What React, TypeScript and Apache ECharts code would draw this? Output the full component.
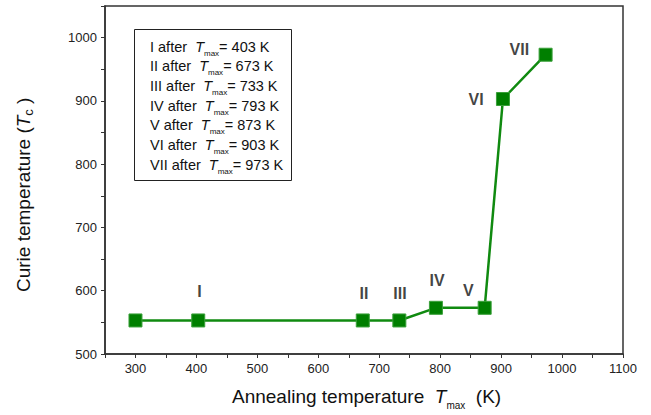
import React, { useEffect, useRef } from "react";
import * as echarts from "echarts";

const annealT = [300, 403, 673, 733, 793, 873, 903, 973];
const curieT = [553, 553, 553, 553, 573, 573, 903, 973];
const stageNames = ["I", "II", "III", "IV", "V", "VI", "VII"];
const stageLabelX = [405, 675, 734, 795, 846, 859, 930];
const stageLabelY = [598, 595, 595, 616, 600, 903, 981];
const legendTmax = [403, 673, 733, 793, 873, 903, 973];

const FONT = "'Liberation Sans', Arial, sans-serif";

export default function App() {
  const ref = useRef<HTMLDivElement>(null);
  useEffect(() => {
    document.body.style.margin = "0";
    if (!ref.current) return;
    const chart = echarts.init(ref.current, null, { renderer: "svg" });
    const lineData = annealT.map((x, i) => [x, curieT[i]]);
    const labelData = stageNames.map((n, i) => ({ name: n, value: [stageLabelX[i], stageLabelY[i]] }));

    const legendTexts: any[] = stageNames.map((n, i) => ({
      type: "text",
      left: 150,
      top: 39 + i * 19.7,
      style: {
        text: `{a|${n} after  }{t|T}{s|max}{a|= ${legendTmax[i]} K}`,
        rich: {
          a: { fontSize: 14.5, fontFamily: FONT, fill: "#111", verticalAlign: "bottom", lineHeight: 16 },
          t: { fontSize: 14.5, fontFamily: FONT, fontStyle: "italic", fill: "#111", verticalAlign: "bottom", lineHeight: 16 },
          s: { fontSize: 8, fontFamily: FONT, fill: "#111", verticalAlign: "bottom", lineHeight: 12, padding: [0, 0, -3, 0] },
        },
      },
    }));

    const axisLabelBase = { color: "#222", fontSize: 13, fontFamily: FONT, margin: 8 };

    chart.setOption({
      animation: false,
      grid: { left: 105, right: 28, top: 6, bottom: 61, show: true, borderColor: "#333", borderWidth: 1.5, containLabel: false },
      xAxis: {
        type: "value",
        min: 250,
        max: 1100,
        interval: 50,
        axisLine: { show: true, lineStyle: { color: "#333", width: 1.5 } },
        axisTick: { show: true, length: 4, lineStyle: { color: "#333" } },
        splitLine: { show: false },
        axisLabel: {
          ...axisLabelBase,
          formatter: (v: number) => (v % 100 === 0 ? String(v) : ""),
        },
      },
      yAxis: {
        type: "value",
        min: 500,
        max: 1050,
        interval: 50,
        axisLine: { show: true, lineStyle: { color: "#333", width: 1.5 } },
        axisTick: { show: true, length: 4, lineStyle: { color: "#333" } },
        splitLine: { show: false },
        axisLabel: {
          ...axisLabelBase,
          formatter: (v: number) => (v % 100 === 0 && v <= 1000 ? String(v) : ""),
        },
      },
      graphic: [
        {
          type: "rect",
          shape: { x: 134.5, y: 29.5, width: 157, height: 151 },
          style: { fill: "#fff", stroke: "#222", lineWidth: 1 },
          z: 10,
        },
        ...legendTexts.map((t) => ({ ...t, z: 11 })),
        {
          type: "text",
          left: 232,
          top: 387,
          style: {
            text: "{a|Annealing temperature  }{t|T}{s|max}{a|  (K)}",
            rich: {
              a: { fontSize: 19, fontFamily: FONT, fill: "#111", verticalAlign: "bottom", lineHeight: 22 },
              t: { fontSize: 19, fontFamily: FONT, fontStyle: "italic", fill: "#111", verticalAlign: "bottom", lineHeight: 22 },
              s: { fontSize: 10, fontFamily: FONT, fill: "#111", verticalAlign: "bottom", lineHeight: 14, padding: [0, 0, -4, 0] },
            },
          },
        },
        {
          type: "text",
          x: 11,
          y: 292,
          rotation: Math.PI / 2,
          style: {
            text: "{a|Curie temperature (}{t|T}{s|c}{a| )}",
            align: "left",
            verticalAlign: "top",
            rich: {
              a: { fontSize: 19, fontFamily: FONT, fill: "#111", verticalAlign: "bottom", lineHeight: 22 },
              t: { fontSize: 19, fontFamily: FONT, fontStyle: "italic", fill: "#111", verticalAlign: "bottom", lineHeight: 22 },
              s: { fontSize: 13, fontFamily: FONT, fill: "#111", verticalAlign: "bottom", lineHeight: 16, padding: [0, 0, -2, 0] },
            },
          },
        },
      ],
      series: [
        {
          type: "line",
          data: lineData,
          symbol: "rect",
          symbolSize: 13,
          lineStyle: { color: "#108a10", width: 2.5 },
          itemStyle: { color: "#007f00", borderColor: "#3aa03a", borderWidth: 1 },
          z: 3,
        },
        {
          type: "scatter",
          data: labelData,
          symbolSize: 0,
          label: {
            show: true,
            position: "inside",
            formatter: (p: any) => p.name,
            fontSize: 16,
            fontWeight: "bold",
            fontFamily: FONT,
            color: "#111",
          },
          z: 4,
        },
      ],
    });
    return () => chart.dispose();
  }, []);
  return <div ref={ref} style={{ width: 651, height: 415 }} />;
}
